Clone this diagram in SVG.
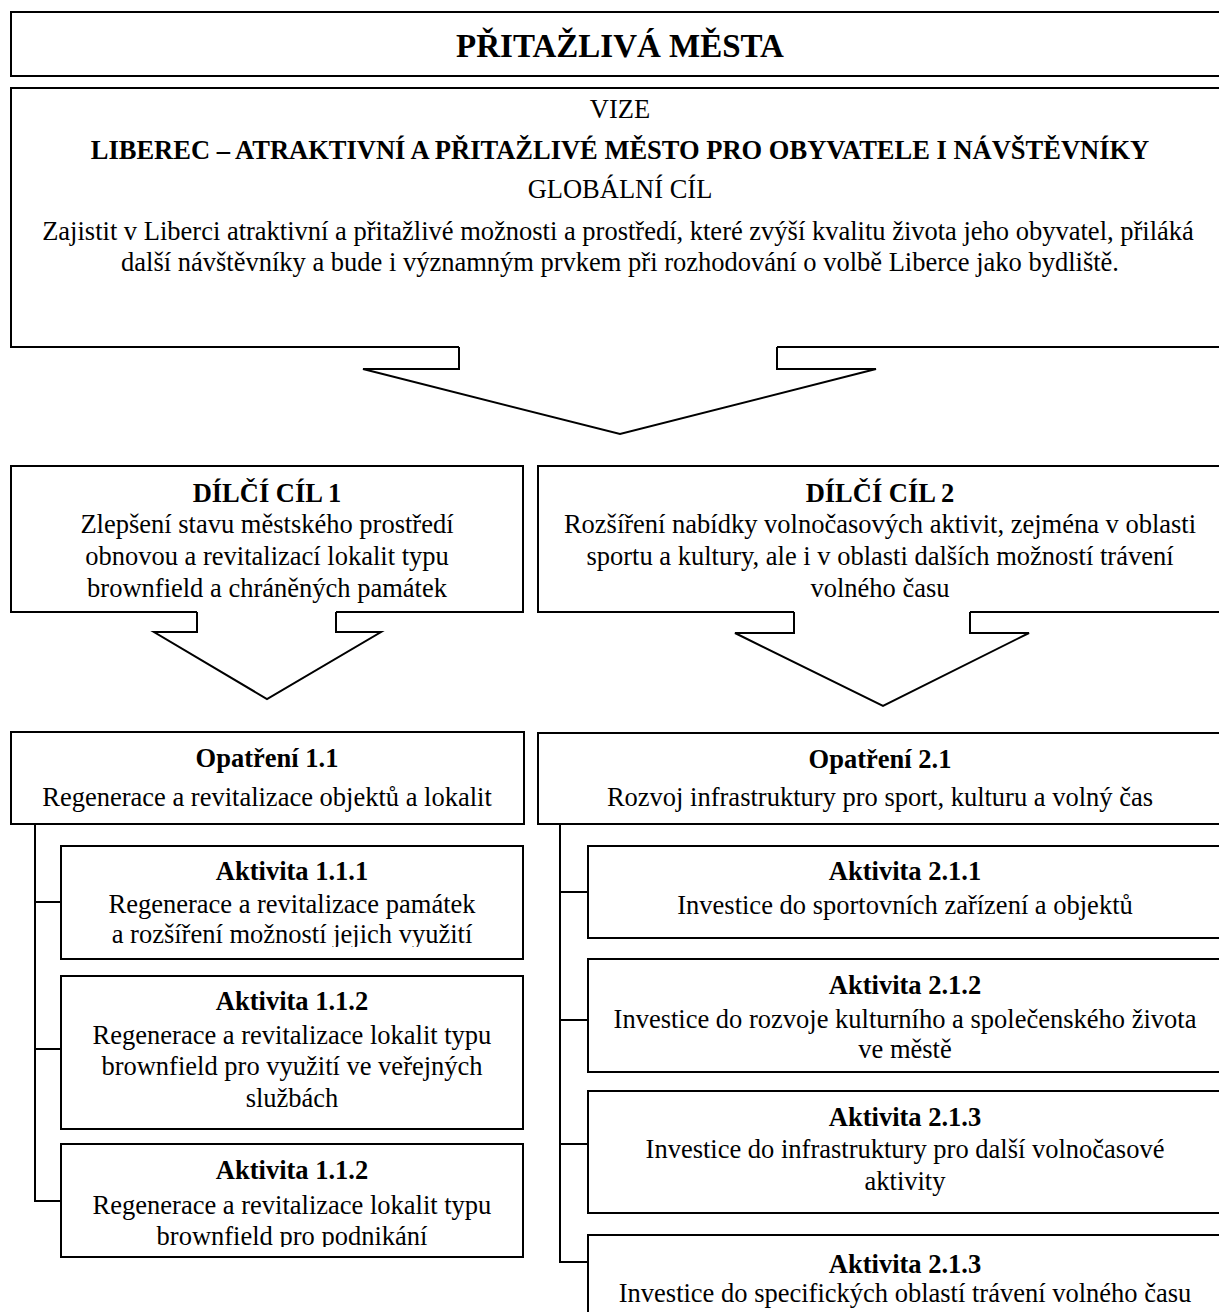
<svg xmlns="http://www.w3.org/2000/svg" width="1219" height="1312" viewBox="0 0 1219 1312">
<style>
.box{fill:#fff;stroke:#000;stroke-width:2}
.ln{fill:none;stroke:#000;stroke-width:2}
text{font-family:"Liberation Serif","Times New Roman",serif;font-size:26.5px;fill:#000;text-anchor:middle}
.b{font-weight:bold}
.t{font-size:33px;font-weight:bold}
</style>
<defs>
<clipPath id="c111"><rect x="61" y="846" width="462" height="101"/></clipPath>
<clipPath id="c113"><rect x="61" y="1144" width="462" height="103"/></clipPath>
</defs>
<rect width="1219" height="1312" fill="#fff"/>
<g id="title">
<rect class="box" x="11" y="12" width="1220" height="64"/>
<text class="t" x="620" y="57">PŘITAŽLIVÁ MĚSTA</text>
</g>
<g id="vize">
<path class="ln" d="M459,347 H11 V88 H1229 V347 H777"/>
<text x="620" y="118">VIZE</text>
<text class="b" x="620" y="159">LIBEREC – ATRAKTIVNÍ A PŘITAŽLIVÉ MĚSTO PRO OBYVATELE I NÁVŠTĚVNÍKY</text>
<text x="620" y="198">GLOBÁLNÍ CÍL</text>
<text x="618" y="240">Zajistit v Liberci atraktivní a přitažlivé možnosti a prostředí, které zvýší kvalitu života jeho obyvatel, přiláká</text>
<text x="620" y="271">další návštěvníky a bude i významným prvkem při rozhodování o volbě Liberce jako bydliště.</text>
</g>
<g id="cil1">
<path class="ln" d="M197,612 H11 V466 H523 V612 H336"/>
<text class="b" x="267" y="502">DÍLČÍ CÍL 1</text>
<text x="267" y="533">Zlepšení stavu městského prostředí</text>
<text x="267" y="565">obnovou a revitalizací lokalit typu</text>
<text x="267" y="597">brownfield a chráněných památek</text>
</g>
<g id="cil2">
<path class="ln" d="M794,612 H538 V466 H1225 M1225,612 H970"/>
<text class="b" x="880" y="502">DÍLČÍ CÍL 2</text>
<text x="880" y="533">Rozšíření nabídky volnočasových aktivit, zejména v oblasti</text>
<text x="880" y="565">sportu a kultury, ale i v oblasti dalších možností trávení</text>
<text x="880" y="597">volného času</text>
</g>
<g id="op11">
<rect class="box" x="11" y="732" width="513" height="92"/>
<text class="b" x="267" y="767">Opatření 1.1</text>
<text x="267" y="806">Regenerace a revitalizace objektů a lokalit</text>
</g>
<g id="op21">
<rect class="box" x="538" y="733" width="690" height="91"/>
<text class="b" x="880" y="768">Opatření 2.1</text>
<text x="880" y="806">Rozvoj infrastruktury pro sport, kulturu a volný čas</text>
</g>
<g id="a111">
<rect class="box" x="61" y="846" width="462" height="113"/>
<text class="b" x="292" y="880">Aktivita 1.1.1</text>
<text x="292" y="913">Regenerace a revitalizace památek</text>
<text x="292" y="943" clip-path="url(#c111)">a rozšíření možností jejich využití</text>
</g>
<g id="a112">
<rect class="box" x="61" y="976" width="462" height="153"/>
<text class="b" x="292" y="1010">Aktivita 1.1.2</text>
<text x="292" y="1044">Regenerace a revitalizace lokalit typu</text>
<text x="292" y="1075">brownfield pro využití ve veřejných</text>
<text x="292" y="1107">službách</text>
</g>
<g id="a112b">
<rect class="box" x="61" y="1144" width="462" height="113"/>
<text class="b" x="292" y="1179">Aktivita 1.1.2</text>
<text x="292" y="1214">Regenerace a revitalizace lokalit typu</text>
<text x="292" y="1245" clip-path="url(#c113)">brownfield pro podnikání</text>
</g>
<g id="a211">
<rect class="box" x="588" y="846" width="640" height="92"/>
<text class="b" x="905" y="880">Aktivita 2.1.1</text>
<text x="905" y="914">Investice do sportovních zařízení a objektů</text>
</g>
<g id="a212">
<rect class="box" x="588" y="959" width="640" height="113"/>
<text class="b" x="905" y="994">Aktivita 2.1.2</text>
<text x="905" y="1028">Investice do rozvoje kulturního a společenského života</text>
<text x="905" y="1058">ve městě</text>
</g>
<g id="a213">
<rect class="box" x="588" y="1091" width="640" height="122"/>
<text class="b" x="905" y="1126">Aktivita 2.1.3</text>
<text x="905" y="1158">Investice do infrastruktury pro další volnočasové</text>
<text x="905" y="1190">aktivity</text>
</g>
<g id="a213b">
<rect class="box" x="588" y="1235" width="640" height="90"/>
<text class="b" x="905" y="1273">Aktivita 2.1.3</text>
<text x="905" y="1302">Investice do specifických oblastí trávení volného času</text>
</g>
<g id="connectors">
<path class="ln" d="M459,347 V369 H363 L620,434 L876,369 H777 V347"/>
<path class="ln" d="M197,612 V632 H154 L267,699 L381,632 H336 V612"/>
<path class="ln" d="M794,612 V633 H735 L883,706 L1029,633 H970 V612"/>
<path class="ln" d="M35,824 V1201 H61 M35,902 H61 M35,1049 H61"/>
<path class="ln" d="M560,824 V1262 H589 M560,892 H589 M560,1020 H589 M560,1144 H589"/>
</g>
</svg>
